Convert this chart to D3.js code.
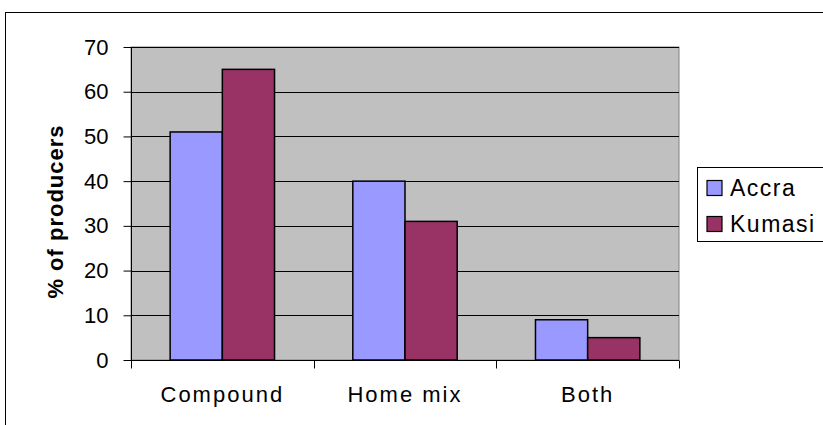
<!DOCTYPE html>
<html>
<head>
<meta charset="utf-8">
<script src="https://cdn.jsdelivr.net/npm/d3@7"></script>
<style>
  html, body { margin: 0; padding: 0; background: #fff; }
  svg { display: block; font-family: "Liberation Sans", Arial, sans-serif; }
</style>
</head>
<body>
<svg id="chart" width="823" height="425"></svg>
<script>
// Feed type used by producers, by city
const categories = ["Compound", "Home mix", "Both"];
const seriesNames = ["Accra", "Kumasi"];
const accra = [51, 40, 9];
const kumasi = [65, 31, 5];
const yTicks = [0, 10, 20, 30, 40, 50, 60, 70];
const colors = ["#9999FF", "#993366"];

const svg = d3.select("#chart");
const plot = { left: 131, top: 47, right: 679, bottom: 360 };

// Outer chart frame
svg.append("rect")
  .attr("x", 5.5).attr("y", 12.5)
  .attr("width", 830).attr("height", 430)
  .attr("fill", "#fff").attr("stroke", "#000").attr("stroke-width", 1);

const x = d3.scaleBand().domain(categories).range([plot.left, plot.right]);
const inner = d3.scaleBand().domain(seriesNames)
  .range([0, x.bandwidth()]).paddingInner(0).paddingOuter(0.75);
const y = d3.scaleLinear().domain([0, 70]).range([plot.bottom, plot.top]);

// Plot background
svg.append("rect")
  .attr("x", plot.left).attr("y", plot.top)
  .attr("width", plot.right - plot.left).attr("height", plot.bottom - plot.top)
  .attr("fill", "#C0C0C0").attr("stroke", "#808080").attr("stroke-width", 1);

// Horizontal gridlines
svg.append("g").selectAll("line")
  .data(yTicks.filter(d => d > 0))
  .join("line")
  .attr("x1", plot.left).attr("x2", plot.right)
  .attr("y1", d => Math.round(y(d)) + 0.5).attr("y2", d => Math.round(y(d)) + 0.5)
  .attr("stroke", "#000").attr("stroke-width", 1);

// Bars
const rows = categories.map((c, i) => ({ cat: c, values: [accra[i], kumasi[i]] }));
svg.append("g").selectAll("g")
  .data(rows)
  .join("g")
  .attr("transform", d => `translate(${x(d.cat)},0)`)
  .selectAll("rect")
  .data(d => d.values.map((v, j) => ({ name: seriesNames[j], v, j })))
  .join("rect")
  .attr("x", d => inner(d.name))
  .attr("y", d => y(d.v))
  .attr("width", inner.bandwidth())
  .attr("height", d => y(0) - y(d.v))
  .attr("fill", d => colors[d.j])
  .attr("stroke", "#000").attr("stroke-width", 1.5);

// Y axis
const yAxis = svg.append("g")
  .attr("transform", `translate(${plot.left + 0.5},0)`)
  .call(d3.axisLeft(y).tickValues(yTicks).tickSize(8).tickPadding(15).tickSizeOuter(0));
yAxis.select(".domain").attr("d", `M0,${plot.top}V${plot.bottom + 8}`).attr("stroke", "#000");
yAxis.selectAll(".tick line").attr("stroke", "#000");
yAxis.selectAll("text")
  .attr("font-size", 22).attr("fill", "#000")
  .style("font-family", "Liberation Sans, Arial, sans-serif");

// X axis
const xAxis = svg.append("g")
  .attr("transform", `translate(0,${plot.bottom + 0.5})`);
xAxis.append("line")
  .attr("x1", plot.left).attr("x2", plot.right)
  .attr("stroke", "#000");
xAxis.selectAll(".sep")
  .data([...categories.map(c => x(c)), plot.right])
  .join("line")
  .attr("class", "sep")
  .attr("x1", d => Math.round(d) + 0.5).attr("x2", d => Math.round(d) + 0.5)
  .attr("y1", 0).attr("y2", 8)
  .attr("stroke", "#000");
xAxis.selectAll("text")
  .data(categories)
  .join("text")
  .attr("x", d => x(d) + x.bandwidth() / 2)
  .attr("y", 41)
  .attr("text-anchor", "middle")
  .attr("font-size", 22)
  .attr("letter-spacing", 2)
  .text(d => d);

// Y axis title
svg.append("text")
  .attr("transform", `translate(63,${(plot.top + plot.bottom) / 2 + 8}) rotate(-90)`)
  .attr("text-anchor", "middle")
  .attr("font-size", 22)
  .attr("font-weight", "bold")
  .attr("letter-spacing", 1)
  .text("% of producers");

// Legend
const legend = svg.append("g");
legend.append("rect")
  .attr("x", 697.5).attr("y", 167.5)
  .attr("width", 140).attr("height", 74)
  .attr("fill", "#fff").attr("stroke", "#000");
seriesNames.forEach((name, i) => {
  const cy = 188 + i * 36;
  legend.append("rect")
    .attr("x", 707).attr("y", cy - 7.5)
    .attr("width", 15).attr("height", 15)
    .attr("fill", colors[i]).attr("stroke", "#000").attr("stroke-width", 1.2);
  legend.append("text")
    .attr("x", 730).attr("y", cy + 8)
    .attr("font-size", 23)
    .attr("letter-spacing", 1.5)
    .text(name);
});
</script>
</body>
</html>
